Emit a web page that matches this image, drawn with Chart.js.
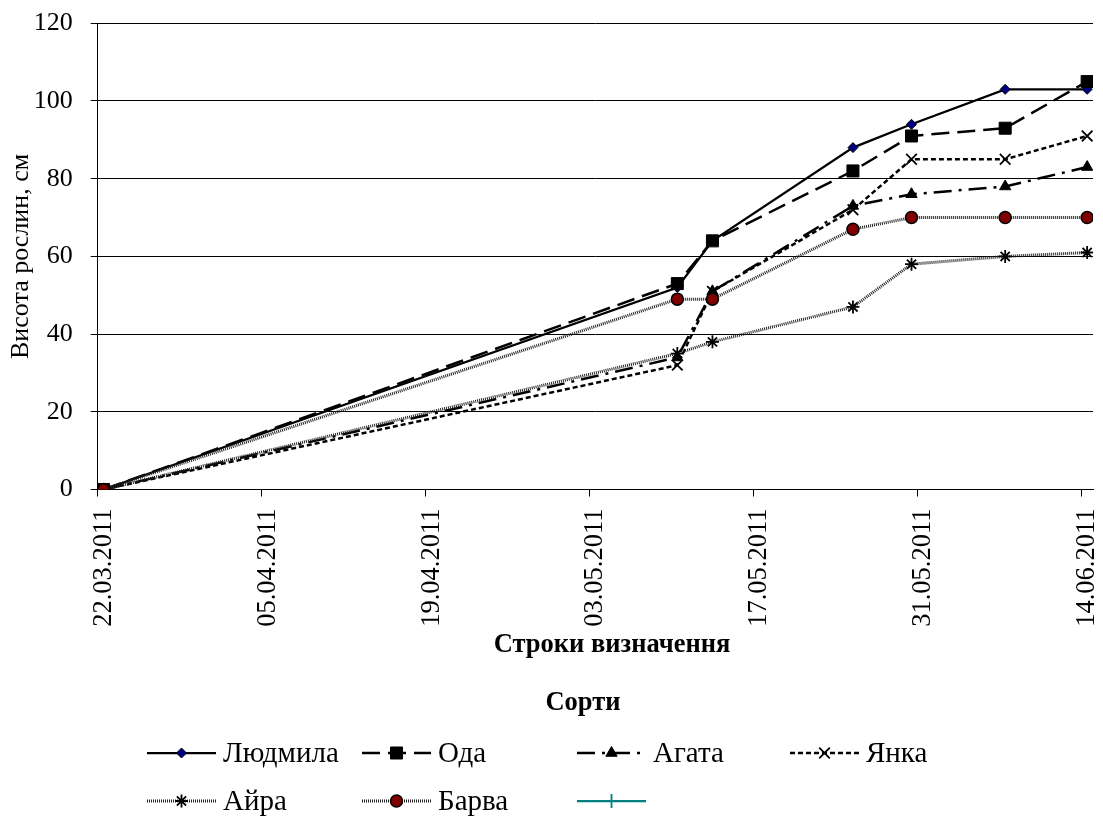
<!DOCTYPE html>
<html>
<head>
<meta charset="utf-8">
<title>Висота рослин</title>
<script src="https://cdn.jsdelivr.net/npm/chart.js@4/dist/chart.umd.min.js"></script>
<style>
  html, body { margin: 0; padding: 0; background: #fff; }
  canvas { display: block; }
</style>
</head>
<body>
<canvas id="chart" width="1103" height="816"></canvas>
<script>
// Measurement dates
const dates = ['22.03.2011', '10.05.2011', '13.05.2011', '25.05.2011', '30.05.2011', '07.06.2011', '14.06.2011'];
// Date-axis tick labels (two-week step)
const tickLabels = ['22.03.2011', '05.04.2011', '19.04.2011', '03.05.2011', '17.05.2011', '31.05.2011', '14.06.2011'];
const yTicks = [0, 20, 40, 60, 80, 100, 120];

// Plant height, cm
const ludmyla = [0, 52, 64, 88, 94, 103, 103];
const oda     = [0, 53, 64, 82, 91, 93, 105];
const ahata   = [0, 34, 51, 73, 76, 78, 83];
const yanka   = [0, 32, 51, 72, 85, 85, 91];
const aira    = [0, 35, 38, 47, 58, 60, 61];
const barva   = [0, 49, 49, 67, 70, 70, 70];
const extra   = [];

const seriesNames = ['Людмила', 'Ода', 'Агата', 'Янка', 'Айра', 'Барва', ''];
const seriesValues = [ludmyla, oda, ahata, yanka, aira, barva, extra];

const FONT = "'Liberation Serif', 'Times New Roman', serif";

// day number from a dd.mm.yyyy string
function dayOf(s) {
  const [d, m, y] = s.split('.').map(Number);
  return Date.UTC(y, m - 1, d) / 86400000;
}
const day0 = dayOf(tickLabels[0]);
const tickDays = tickLabels.map(s => dayOf(s) - day0);
// points sit in the middle of their day, between tick marks
const pointX = dates.map(s => dayOf(s) - day0 + 0.5);
const axisMax = dayOf(dates[dates.length - 1]) - day0 + 1;

const dotted = [1, 1];
const styles = [
  { color: '#000', width: 2.25, dash: [], point: 'rectRot', radius: 5, fill: '#000080', pborder: '#000', pwidth: 1 },
  { color: '#000', width: 2.5, dash: [18, 8], point: 'rect', radius: 8.5, fill: '#000', pborder: '#000', pwidth: 1 },
  { color: '#000', width: 2.5, dash: [18, 7, 3, 7], point: 'triangle', radius: 6.5, fill: '#000', pborder: '#000', pwidth: 1 },
  { color: '#000', width: 2.5, dash: [5, 3], point: 'crossRot', radius: 7.5, fill: '#000', pborder: '#000', pwidth: 1.8 },
  { color: '#222', width: 3, dash: dotted, point: 'star', radius: 6.5, fill: '#000', pborder: '#000', pwidth: 1.8 },
  { color: '#222', width: 3, dash: dotted, point: 'circle', radius: 6, fill: '#800000', pborder: '#000', pwidth: 1.5 },
  { color: '#008080', width: 2.25, dash: [], point: 'cross', radius: 7, fill: '#008080', pborder: '#008080', pwidth: 1.8 }
];

const datasets = seriesValues.map((vals, i) => {
  const st = styles[i];
  return {
    label: seriesNames[i],
    data: vals.map((v, k) => ({ x: pointX[k], y: v })),
    borderColor: st.color,
    borderWidth: st.width,
    borderDash: st.dash,
    pointStyle: st.point,
    pointRadius: st.radius,
    pointHoverRadius: st.radius,
    pointBackgroundColor: st.fill,
    pointBorderColor: st.pborder,
    pointBorderWidth: st.pwidth,
    tension: 0,
    fill: false,
    order: seriesValues.length - i
  };
});

// axis title and a grid-style legend with line samples
const legendGrid = {
  id: 'legendGrid',
  afterDraw(chart) {
    const ctx = chart.ctx;
    ctx.save();
    ctx.fillStyle = '#000';
    ctx.textBaseline = 'middle';
    ctx.textAlign = 'center';
    ctx.font = 'bold 26.5px ' + FONT;
    ctx.fillText('Строки визначення', 612, 645);
    ctx.fillText('Сорти', 583, 703);

    const colX = [147, 362, 577, 790];
    const rowY = [753, 801];
    const lineLen = 69;
    ctx.font = '29px ' + FONT;
    ctx.textAlign = 'left';
    seriesNames.forEach((name, i) => {
      const st = styles[i];
      const x0 = colX[i % 4];
      const y = rowY[Math.floor(i / 4)];
      ctx.save();
      ctx.strokeStyle = st.color;
      ctx.lineWidth = st.width;
      ctx.setLineDash(st.dash);
      ctx.beginPath();
      ctx.moveTo(x0, y);
      ctx.lineTo(x0 + lineLen, y);
      ctx.stroke();
      ctx.setLineDash([]);
      ctx.fillStyle = st.fill;
      ctx.strokeStyle = st.pborder;
      ctx.lineWidth = st.pwidth;
      Chart.helpers.drawPoint(ctx, { pointStyle: st.point, radius: st.radius, rotation: 0, borderWidth: st.pwidth }, x0 + lineLen / 2, y);
      ctx.restore();
      ctx.fillStyle = '#000';
      ctx.fillText(name, x0 + lineLen + 7, y + 1);
    });
    ctx.restore();
  }
};

const X_HEIGHT = 140;
const PAD_TOP = 23.3;
const PLOT_BOTTOM = 489.5;

new Chart(document.getElementById('chart'), {
  type: 'line',
  data: { datasets },
  plugins: [legendGrid],
  options: {
    responsive: false,
    animation: false,
    devicePixelRatio: 1,
    layout: { padding: { left: 5.5, right: 10, top: PAD_TOP, bottom: 816 - PLOT_BOTTOM - X_HEIGHT } },
    plugins: { legend: { display: false }, tooltip: { enabled: false } },
    scales: {
      x: {
        type: 'linear',
        min: 0,
        max: axisMax,
        afterBuildTicks: s => { s.ticks = tickDays.map(v => ({ value: v })); },
        afterFit: s => { s.height = X_HEIGHT; s.paddingLeft = 0; s.paddingRight = 0; },
        ticks: {
          autoSkip: false,
          minRotation: 90,
          maxRotation: 90,
          padding: 12,
          labelOffset: 6,
          color: '#000',
          font: { family: FONT, size: 26.5 },
          callback: (v, i) => tickLabels[i]
        },
        grid: { drawOnChartArea: false, drawTicks: true, tickLength: 7, color: '#000' },
        border: { color: '#000', width: 1 }
      },
      y: {
        min: 0,
        max: 120,
        afterBuildTicks: s => { s.ticks = yTicks.map(v => ({ value: v })); },
        afterFit: s => { s.width = 92.2; s.paddingTop = 0; s.paddingBottom = 0; },
        ticks: {
          padding: 18,
          color: '#000',
          font: { family: FONT, size: 26 }
        },
        grid: { color: '#000', tickLength: 7, drawTicks: true },
        border: { color: '#000', width: 1 },
        title: {
          display: true,
          text: 'Висота рослин, см',
          color: '#000',
          padding: 0,
          font: { family: FONT, size: 26, lineHeight: 1.2 }
        }
      }
    }
  }
});
</script>
</body>
</html>
